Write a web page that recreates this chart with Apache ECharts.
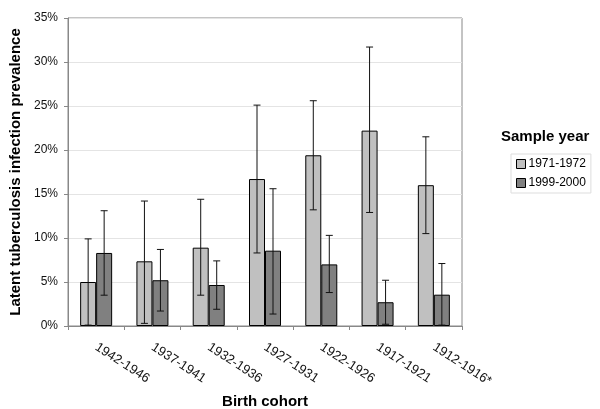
<!DOCTYPE html>
<html><head><meta charset="utf-8">
<script src="https://cdn.jsdelivr.net/npm/echarts@6/dist/echarts.min.js"></script>
<style>html,body{margin:0;padding:0;background:#fff}#c{width:600px;height:409px}</style>
</head><body><div id="c"></div>
<script>
var categories = ['1942-1946','1937-1941','1932-1936','1927-1931','1922-1926','1917-1921','1912-1916*'];
var seriesNames = ['1971-1972','1999-2000'];
var values1971 = [5.0, 7.35, 8.9, 16.7, 19.4, 22.2, 16.0];
var low1971    = [0.1, 0.3, 3.5, 8.3, 13.2, 12.9, 10.5];
var high1971   = [9.9, 14.2, 14.4, 25.1, 25.6, 31.7, 21.5];
var values1999 = [8.3, 5.2, 4.66, 8.56, 7.0, 2.7, 3.56];
var low1999    = [3.5, 1.7, 1.9, 1.36, 3.8, 0.2, 0.1];
var high1999   = [13.1, 8.7, 7.4, 15.6, 10.3, 5.2, 7.1];
var yTicks = [0,5,10,15,20,25,30,35];

var FONT = 'Liberation Sans, Arial, sans-serif';
function errData(lo, hi){ return categories.map(function(c,i){ return [i, lo[i], hi[i]]; }); }
function errRender(offset){
  return function(params, api){
    var i = api.value(0);
    var p1 = api.coord([i, api.value(1)]);
    var p2 = api.coord([i, api.value(2)]);
    var x = p1[0] + offset, cw = 3.5;
    var st = {stroke:'#111', lineWidth:1};
    return {type:'group', children:[
      {type:'line', shape:{x1:x,y1:p1[1],x2:x,y2:p2[1]}, style:st},
      {type:'line', shape:{x1:x-cw,y1:p1[1],x2:x+cw,y2:p1[1]}, style:st},
      {type:'line', shape:{x1:x-cw,y1:p2[1],x2:x+cw,y2:p2[1]}, style:st}
    ]};
  };
}
var chart = echarts.init(document.getElementById('c'), null, {renderer:'canvas'});
chart.setOption({
  animation:false,
  textStyle:{fontFamily:FONT},
  grid:{left:68, top:18, right:138, bottom:83, show:true, borderColor:'#888', borderWidth:1,
        containLabel:false, outerBoundsMode:'none'},
  title:{text:'Sample year', left:496, top:124, textStyle:{fontFamily:FONT, fontSize:15, fontWeight:'bold', color:'#000'}},
  legend:{data:seriesNames, orient:'vertical', left:511, top:154, itemWidth:9, itemHeight:9, itemGap:7,
    icon:'rect', itemStyle:{borderColor:'#000', borderWidth:1},
    borderColor:'#ddd', borderWidth:1, padding:[4,5,4,5],
    textStyle:{fontFamily:FONT, fontSize:12, color:'#000', padding:[0,0,0,-2]}},
  xAxis:{type:'category', data:categories,
    axisLine:{lineStyle:{color:'#888'}},
    axisTick:{show:true, length:4, lineStyle:{color:'#888'}},
    axisLabel:{rotate:-33, margin:20, fontFamily:FONT, fontSize:13, color:'#111', interval:0},
    name:'Birth cohort', nameLocation:'middle', nameGap:66,
    nameTextStyle:{fontFamily:FONT, fontSize:15, fontWeight:'bold', color:'#000'}},
  yAxis:{type:'value', min:0, max:35, interval:5,
    axisLine:{show:true, lineStyle:{color:'#888'}},
    axisTick:{show:true, length:4, lineStyle:{color:'#888'}},
    splitLine:{lineStyle:{color:'#e4e4e4'}},
    axisLabel:{formatter:function(v){return yTicks.indexOf(v)>=0 ? v+'%' : '';}, margin:10, fontFamily:FONT, fontSize:12, color:'#111'},
    name:'Latent tuberculosis infection prevalence', nameLocation:'middle', nameGap:44,
    nameTextStyle:{fontFamily:FONT, fontSize:15, fontWeight:'bold', color:'#000'}},
  series:[
    {name:seriesNames[0], type:'bar', data:values1971, barWidth:16, barGap:'0%',
      itemStyle:{color:'#c0c0c0', borderColor:'#000', borderWidth:1}},
    {name:seriesNames[1], type:'bar', data:values1999, barWidth:16, barGap:'0%',
      itemStyle:{color:'#808080', borderColor:'#000', borderWidth:1}},
    {type:'custom', renderItem:errRender(-8), data:errData(low1971, high1971), z:10, encode:{x:0,y:[1,2]}},
    {type:'custom', renderItem:errRender(8), data:errData(low1999, high1999), z:10, encode:{x:0,y:[1,2]}}
  ]
});
</script></body></html>
